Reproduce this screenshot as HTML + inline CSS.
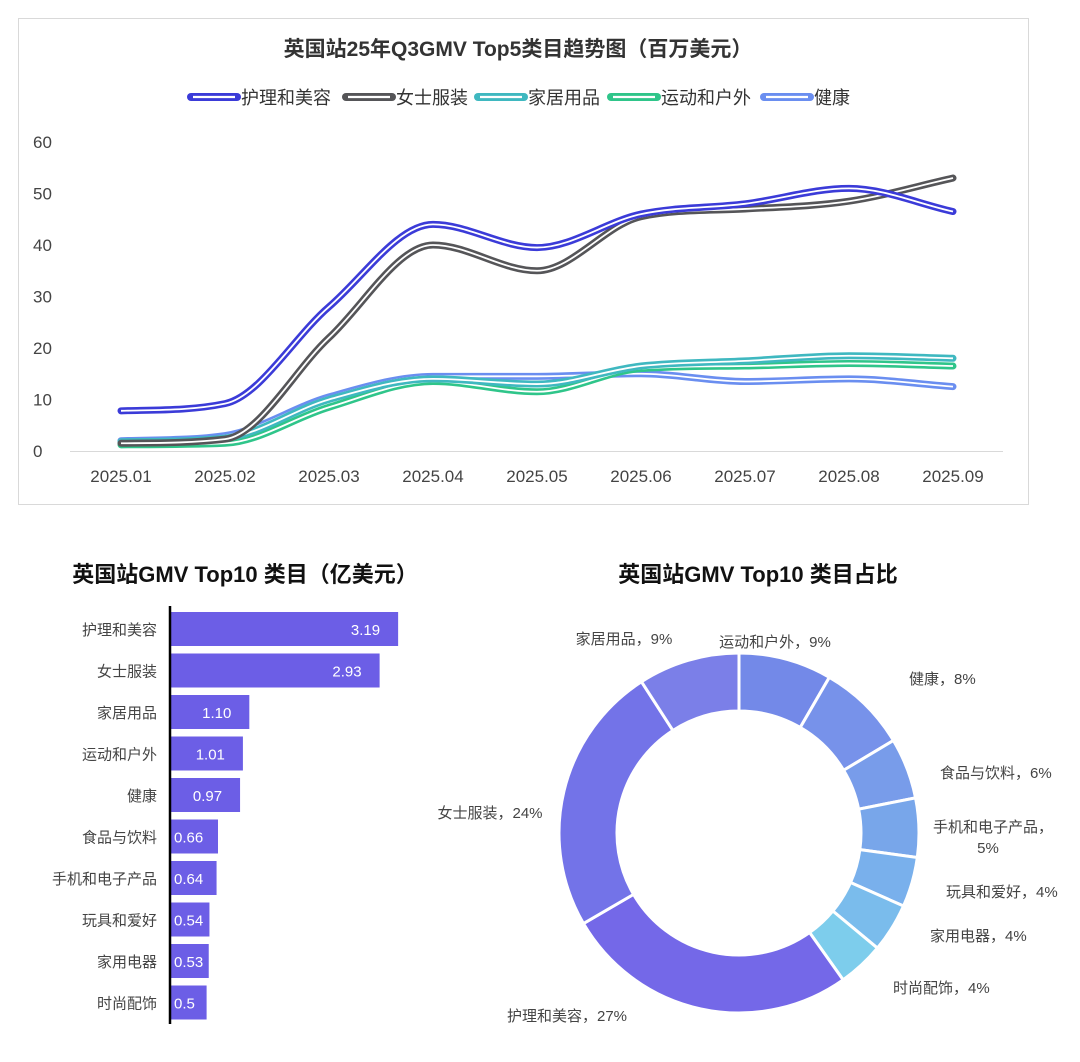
<!DOCTYPE html>
<html><head><meta charset="utf-8">
<style>
html,body{margin:0;padding:0;background:#fff;}
body{width:1080px;height:1057px;overflow:hidden;font-family:"Liberation Sans","Noto Sans CJK SC",sans-serif;}
svg text{font-family:"Liberation Sans","Noto Sans CJK SC",sans-serif;}
</style></head>
<body>
<svg id="s" width="1080" height="1057" xmlns="http://www.w3.org/2000/svg">
<rect x="18.5" y="18.5" width="1010" height="486" fill="#fff" stroke="#d9d9d9"/>
<text x="518" y="56" text-anchor="middle" font-size="21" font-weight="bold" fill="#333">英国站25年Q3GMV Top5类目趋势图（百万美元）</text>
<g id="legend"></g>
<g id="axes"></g>
<g id="lines"></g>
<text x="245" y="582" text-anchor="middle" font-size="22" font-weight="bold" fill="#111">英国站GMV Top10 类目（亿美元）</text>
<text x="758" y="582" text-anchor="middle" font-size="22" font-weight="bold" fill="#111">英国站GMV Top10 类目占比</text>
<g id="bars"></g>
<g id="donut"></g>
</svg>
<script>
var NS="http://www.w3.org/2000/svg";
function el(p,t,a,txt){var e=document.createElementNS(NS,t);for(var k in a)e.setAttribute(k,a[k]);if(txt!=null)e.textContent=txt;p.appendChild(e);return e;}
var $=function(i){return document.getElementById(i)};
var lg=[["护理和美容","#3b3bd8"],["女士服装","#555558"],["家居用品","#3fb8c0"],["运动和户外","#2fc58a"],["健康","#6a8ef0"]];
var lx=[191,346,478,611,764];
lg.forEach(function(d,i){var g=$("legend");
el(g,"line",{x1:lx[i],y1:97,x2:lx[i]+46,y2:97,stroke:d[1],"stroke-width":8,"stroke-linecap":"round"});
el(g,"line",{x1:lx[i]+2,y1:97,x2:lx[i]+44,y2:97,stroke:"#fff","stroke-width":2.2});
el(g,"text",{x:lx[i]+50,y:104,"font-size":18,fill:"#333"},d[0]);});
var ax=$("axes");
for(var v=0;v<=60;v+=10){el(ax,"text",{x:33,y:451-v*5.15+6,"font-size":17,fill:"#444"},v);}
el(ax,"line",{x1:70,y1:451.5,x2:1003,y2:451.5,stroke:"#d9d9d9"});
var X=function(i){return 121+i*104}, Y=function(v){return 451-v*5.15};
for(var i=0;i<9;i++)el(ax,"text",{x:X(i),y:482,"text-anchor":"middle","font-size":17,fill:"#444"},"2025.0"+(i+1));
var data=[
["#6a8ef0",[2,3,10.5,14.5,14.5,15,13.5,14,12.5]],
["#2fc58a",[1.2,1.5,8.5,13.5,11.5,16,16.5,17,16.5]],
["#3fb8c0",[1.8,2.5,10,14,13,16.5,17.5,18.5,18]],
["#555558",[1.5,2.3,22,40,35,45.5,47,48.5,53]],
["#3b3bd8",[7.8,9.2,28,44,39.5,46,48,51,46.5]]];
function path(vals){var n=vals.length,h=104;var ys=vals.map(Y);var dl=[],m=[];
for(var i=0;i<n-1;i++)dl.push((ys[i+1]-ys[i])/h);
m[0]=dl[0];m[n-1]=dl[n-2];
for(var i=1;i<n-1;i++){if(dl[i-1]*dl[i]<=0)m[i]=0;else m[i]=(dl[i-1]+dl[i])/2;}
for(var i=0;i<n-1;i++){if(dl[i]==0){m[i]=m[i+1]=0;continue;}var a=m[i]/dl[i],b=m[i+1]/dl[i],s=a*a+b*b;if(s>9){var t=3/Math.sqrt(s);m[i]=t*a*dl[i];m[i+1]=t*b*dl[i];}}
var d="M"+X(0)+","+ys[0];
for(var i=0;i<n-1;i++){d+=" C"+(X(i)+h/3)+","+(ys[i]+m[i]*h/3)+" "+(X(i+1)-h/3)+","+(ys[i+1]-m[i+1]*h/3)+" "+X(i+1)+","+ys[i+1];}
return d;}
data.forEach(function(d){var g=$("lines");var pd=path(d[1]);
el(g,"path",{d:pd,fill:"none",stroke:d[0],"stroke-width":7,"stroke-linecap":"round"});
el(g,"path",{d:pd,fill:"none",stroke:"#fff","stroke-width":1.8});});
var bn=["护理和美容","女士服装","家居用品","运动和户外","健康","食品与饮料","手机和电子产品","玩具和爱好","家用电器","时尚配饰"];
var bv=[3.19,2.93,1.10,1.01,0.97,0.66,0.64,0.54,0.53,0.5];
var bs=["3.19","2.93","1.10","1.01","0.97","0.66","0.64","0.54","0.53","0.5"];
var bg=$("bars");
bn.forEach(function(n,i){var cy=629+i*41.5,w=bv[i]*71.2;
el(bg,"rect",{x:171,y:cy-17,width:w,height:34,fill:"#6c5ee6"});
el(bg,"text",{x:157,y:cy+6,"text-anchor":"end","font-size":15,fill:"#444"},n);
var anc=(w>50)?"end":"start";
el(bg,"text",{x:(w>50?171+w-18:174),y:cy+6,"text-anchor":anc,"font-size":15,fill:"#fff"},bs[i]);});
el(bg,"line",{x1:170,y1:606,x2:170,y2:1024,stroke:"#000","stroke-width":2.5});
var dv=[1.01,0.97,0.66,0.64,0.54,0.53,0.5,3.19,2.93,1.10];
var dc=["#7389e8","#7792ea","#789cea","#78a6ea","#79b0ec","#7abcec","#7dcdec","#7468e8","#7373e8","#7b7fe8"];
var tot=dv.reduce(function(a,b){return a+b},0);
var cx=739,cy=833,R=180,r=122,a=0;var dg=$("donut");
function pt(ang,rad){return[cx+rad*Math.sin(ang),cy-rad*Math.cos(ang)];}
dv.forEach(function(v,i){var a2=a+v/tot*2*Math.PI;var la=(a2-a)>Math.PI?1:0;
var p1=pt(a,R),p2=pt(a2,R),p3=pt(a2,r),p4=pt(a,r);
el(dg,"path",{d:"M"+p1+" A"+R+","+R+" 0 "+la+" 1 "+p2+" L"+p3+" A"+r+","+r+" 0 "+la+" 0 "+p4+"Z",fill:dc[i],stroke:"#fff","stroke-width":3});a=a2;});
var lb=[["运动和户外，9%",775,647,"middle"],["健康，8%",909,684,"start"],["食品与饮料，6%",940,778,"start"],["手机和电子产品，",933,832,"start"],["5%",988,853,"middle"],["玩具和爱好，4%",946,897,"start"],["家用电器，4%",930,941,"start"],["时尚配饰，4%",893,993,"start"],["护理和美容，27%",567,1021,"middle"],["女士服装，24%",490,818,"middle"],["家居用品，9%",624,644,"middle"]];
lb.forEach(function(l){el(dg,"text",{x:l[1],y:l[2],"text-anchor":l[3],"font-size":15,fill:"#444"},l[0]);});
</script>
</body></html>
